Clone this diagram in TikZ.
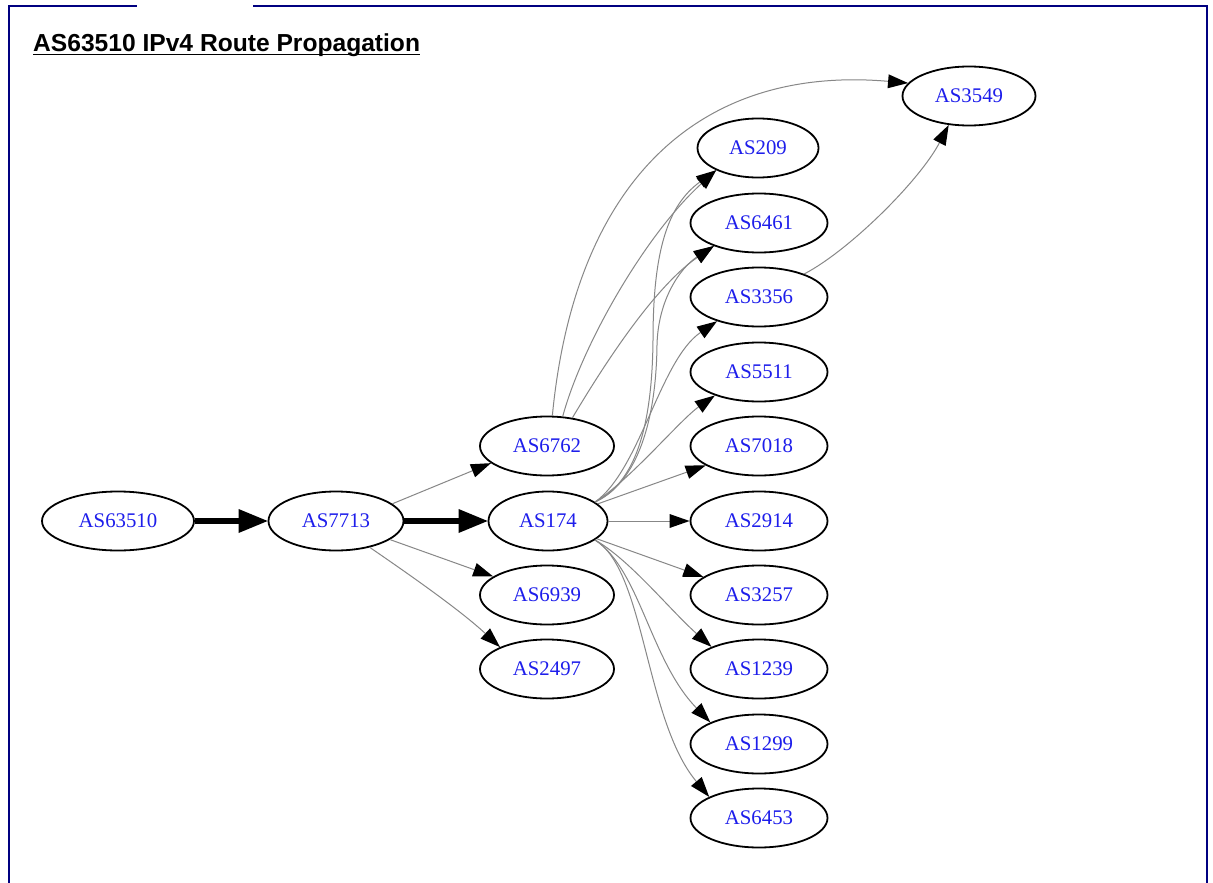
\documentclass[tikz,border=0pt]{standalone}
\usepackage{fontspec}
\setmainfont{Liberation Serif}
\newfontfamily\titlefont{Liberation Sans}
\usetikzlibrary{shapes.geometric,arrows.meta}
\definecolor{framec}{RGB}{0,0,128}
\definecolor{labelc}{RGB}{30,30,235}
\definecolor{edgec}{RGB}{135,135,135}
\begin{document}
\begin{tikzpicture}[x=1pt,y=-1pt,
  asnode/.style={ellipse, draw=black, line width=1.8pt, inner sep=0pt,
    minimum height=59pt, text=labelc, font=\fontsize{20.8}{24}\selectfont},
  thinedge/.style={draw=edgec, line width=1pt,
    -{Triangle[length=20pt,width=14pt,line width=0pt,color=black,fill=black]}},
  boldedge/.style={draw=black, line width=5.5pt,
    -{Triangle[length=29pt,width=24pt,line width=0pt]}},
  framestroke/.style={draw=framec, line width=2pt}]
\useasboundingbox (0,0) rectangle (1213,883);
\fill[white] (0,0) rectangle (1213,883);
% frame
\draw[framestroke] (9,884) -- (9,6) -- (137,6);
\draw[framestroke] (253,6) -- (1207,6) -- (1207,884);
% title
\node[anchor=base west, inner sep=0pt, font=\titlefont\bfseries\fontsize{24.6}{28}\selectfont]
  (title) at (33,51.5) {AS63510 IPv4 Route Propagation};
\draw[line width=1.8pt] ([yshift=-3pt]title.base west) -- ([yshift=-3pt]title.base east);
% nodes
\node[asnode, minimum width=152pt] (AS63510) at (118,521) {AS63510};
\node[asnode, minimum width=135pt] (AS7713) at (336,521) {AS7713};
\node[asnode, minimum width=134pt] (AS6762) at (547,446) {AS6762};
\node[asnode, minimum width=119pt] (AS174) at (548,521) {AS174};
\node[asnode, minimum width=134pt] (AS6939) at (547,595) {AS6939};
\node[asnode, minimum width=134pt] (AS2497) at (547,669) {AS2497};
\node[asnode, minimum width=121pt] (AS209) at (758,148) {AS209};
\node[asnode, minimum width=137pt] (AS6461) at (759,223) {AS6461};
\node[asnode, minimum width=137pt] (AS3356) at (759,297) {AS3356};
\node[asnode, minimum width=137pt] (AS5511) at (759,372) {AS5511};
\node[asnode, minimum width=137pt] (AS7018) at (759,446) {AS7018};
\node[asnode, minimum width=137pt] (AS2914) at (759,521) {AS2914};
\node[asnode, minimum width=137pt] (AS3257) at (759,595) {AS3257};
\node[asnode, minimum width=137pt] (AS1239) at (759,669) {AS1239};
\node[asnode, minimum width=137pt] (AS1299) at (759,744) {AS1299};
\node[asnode, minimum width=137pt] (AS6453) at (759,818) {AS6453};
\node[asnode, minimum width=133pt] (AS3549) at (969,96) {AS3549};
% bold edges
\draw[boldedge] (AS63510) -- (AS7713);
\draw[boldedge] (AS7713) -- (AS174);
% AS7713 edges
\draw[thinedge] (AS7713.17) -- (AS6762.197);
\draw[thinedge] (AS7713.341) -- (AS6939.161);
\draw[thinedge] (AS7713.322) .. controls (410,575) and (460,610) .. (AS2497.155);
% AS6762 edges
\draw[thinedge] (AS6762.80) .. controls (575,180) and (700,65) .. (AS3549.168);
\draw[thinedge] (AS6762.62) .. controls (582,345) and (645,235) .. (AS209.208);
\draw[thinedge] (AS6762.48) .. controls (595,380) and (650,290) .. (AS6461.207);
% AS174 edges
\draw[thinedge] (AS174.22) .. controls (630,485) and (652,440) .. (653,340)
  .. controls (653,250) and (668,205) .. (AS209.208);
\draw[thinedge] (AS174.22) .. controls (633,485) and (656,430) .. (657,345)
  .. controls (658,300) and (680,268) .. (AS6461.207);
\draw[thinedge] (AS174.22) .. controls (640,470) and (660,360) .. (AS3356.210);
\draw[thinedge] (AS174.22) .. controls (630,480) and (680,420) .. (AS5511.208);
\draw[thinedge] (AS174.19) -- (AS7018.200);
\draw[thinedge] (AS174) -- (AS2914);
\draw[thinedge] (AS174.340) -- (AS3257.162);
\draw[thinedge] (AS174.338) .. controls (630,560) and (670,610) .. (AS1239.155);
\draw[thinedge] (AS174.338) .. controls (640,570) and (650,660) .. (AS1299.156);
\draw[thinedge] (AS174.338) .. controls (645,570) and (645,720) .. (AS6453.157);
% AS3356 edge
\draw[thinedge] (AS3356.27) .. controls (850,250) and (920,180) .. (AS3549.235);
\end{tikzpicture}
\end{document}
